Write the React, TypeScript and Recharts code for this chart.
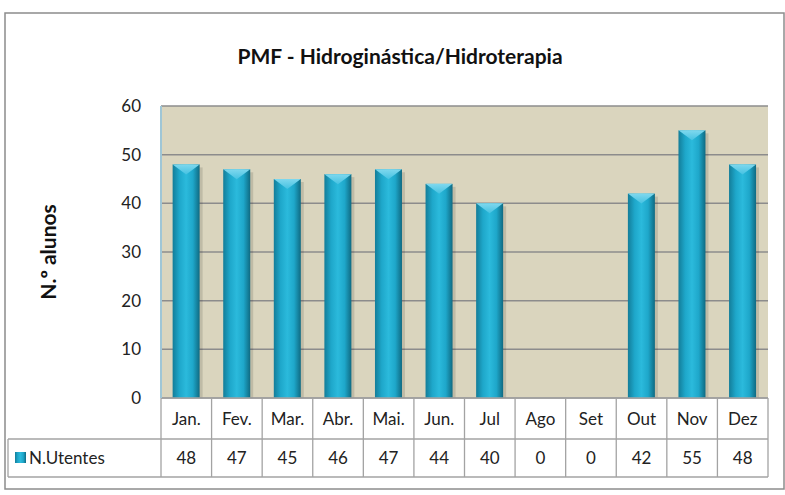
import { Bar, BarChart, CartesianGrid, XAxis, YAxis } from 'recharts';

const months = ['Jan.', 'Fev.', 'Mar.', 'Abr.', 'Mai.', 'Jun.', 'Jul', 'Ago', 'Set', 'Out', 'Nov', 'Dez'];
const utentes = [48, 47, 45, 46, 47, 44, 40, 0, 0, 42, 55, 48];
const yTicks = [0, 10, 20, 30, 40, 50, 60];
const seriesName = 'N.Utentes';

const data = months.map((m, i) => ({ name: m, value: utentes[i] }));

const W = 785;
const H = 495;
const PLOT_L = 161;
const PLOT_R = 768;
const PLOT_T = 106;
const PLOT_B = 398;
const Y_AXIS_W = 40;
const X_AXIS_H = 30;
const COL = (PLOT_R - PLOT_L) / months.length;
const ROW1 = 439;
const ROW2 = 477;
const TABLE_L = 8;
const FONT = 'Lato, "Open Sans", sans-serif';
const GRID = '#a3a3a3';

const TableTick = (props: any) => {
    const { x, index, payload } = props;
    const left = x - COL / 2;
    const right = x + COL / 2;
    return (
        <g>
            <line x1={left} y1={PLOT_B} x2={left} y2={ROW2} stroke={GRID} strokeWidth={1.3} />
            {index === months.length - 1 && (
                <line x1={right} y1={PLOT_B} x2={right} y2={ROW2} stroke={GRID} strokeWidth={1.3} />
            )}
            <text x={x} y={(PLOT_B + ROW1) / 2 + 6} textAnchor="middle" fontSize={17} fill="#222" fontFamily={FONT}>
                {payload.value}
            </text>
            <text x={x} y={(ROW1 + ROW2) / 2 + 6} textAnchor="middle" fontSize={17} fill="#222" fontFamily={FONT}>
                {utentes[index]}
            </text>
        </g>
    );
};

const GlassBar = (props: any) => {
    const { x, y, width, height } = props;
    if (!height || height <= 0) return null;
    const tri = Math.min(10, height);
    return (
        <g>
            <rect x={x + 3} y={y + 3} width={width} height={height - 3} fill="#000" opacity={0.12} />
            <rect x={x} y={y} width={width} height={height} fill="url(#barGrad)" />
            <polygon
                points={`${x},${y} ${x + width},${y} ${x + width / 2},${y + tri}`}
                fill="url(#topGrad)"
            />
        </g>
    );
};

export default function App() {
    return (
        <div style={{ position: 'absolute', left: 0, top: 0, width: W, height: H, background: '#fff' }}>
            <BarChart
                width={W}
                height={H}
                data={data}
                margin={{ top: PLOT_T, right: W - PLOT_R, bottom: H - PLOT_B - X_AXIS_H, left: PLOT_L - Y_AXIS_W }}
                barCategoryGap="23%"
            >
                <defs>
                    <linearGradient id="barGrad" x1="0" y1="0" x2="1" y2="0">
                        <stop offset="0%" stopColor="#137d99" />
                        <stop offset="25%" stopColor="#1ea7ca" />
                        <stop offset="50%" stopColor="#2bbadc" />
                        <stop offset="75%" stopColor="#1ea7ca" />
                        <stop offset="100%" stopColor="#0f6a82" />
                    </linearGradient>
                    <linearGradient id="topGrad" x1="0" y1="0" x2="0" y2="1">
                        <stop offset="0%" stopColor="#7fd8ee" />
                        <stop offset="100%" stopColor="#45c2e2" />
                    </linearGradient>
                </defs>
                {/* outer frame */}
                <rect x={5} y={13} width={W - 6} height={H - 19} fill="none" stroke="#8c8c8c" strokeWidth={1.5} />
                <text x={400} y={64} textAnchor="middle" fontSize={21} fontWeight="bold" fill="#111" fontFamily={FONT}>
                    PMF - Hidroginástica/Hidroterapia
                </text>
                <text
                    x={0}
                    y={0}
                    transform={`translate(56, ${(PLOT_T + PLOT_B) / 2}) rotate(-90)`}
                    textAnchor="middle"
                    fontSize={21}
                    fontWeight="bold"
                    fill="#111"
                    fontFamily={FONT}
                >
                    N.º alunos
                </text>
                {/* table rows */}
                <line x1={TABLE_L} y1={ROW1} x2={PLOT_R} y2={ROW1} stroke={GRID} strokeWidth={1.3} />
                <line x1={TABLE_L} y1={ROW2} x2={PLOT_R} y2={ROW2} stroke={GRID} strokeWidth={1.3} />
                <line x1={TABLE_L} y1={ROW1} x2={TABLE_L} y2={ROW2} stroke={GRID} strokeWidth={1.3} />
                <rect x={15} y={(ROW1 + ROW2) / 2 - 6} width={11} height={11} fill="url(#barGrad)" />
                <text x={29} y={(ROW1 + ROW2) / 2 + 6} fontSize={17} fill="#222" fontFamily={FONT}>
                    {seriesName}
                </text>
                <CartesianGrid vertical={false} stroke="#8c8c8c" strokeWidth={1.5} fill="#dad5be" />
                <XAxis
                    dataKey="name"
                    height={X_AXIS_H}
                    axisLine={{ stroke: GRID, strokeWidth: 1.3 }}
                    tickLine={false}
                    tick={<TableTick />}
                    interval={0}
                />
                <YAxis
                    width={Y_AXIS_W}
                    domain={[0, 60]}
                    ticks={yTicks}
                    axisLine={{ stroke: '#9fc6d6', strokeWidth: 2 }}
                    tickLine={false}
                    tick={{ fontSize: 17, fill: '#222', fontFamily: FONT }}
                    tickMargin={14}
                />
                <Bar dataKey="value" name={seriesName} shape={<GlassBar />} isAnimationActive={false} />
            </BarChart>
        </div>
    );
}
